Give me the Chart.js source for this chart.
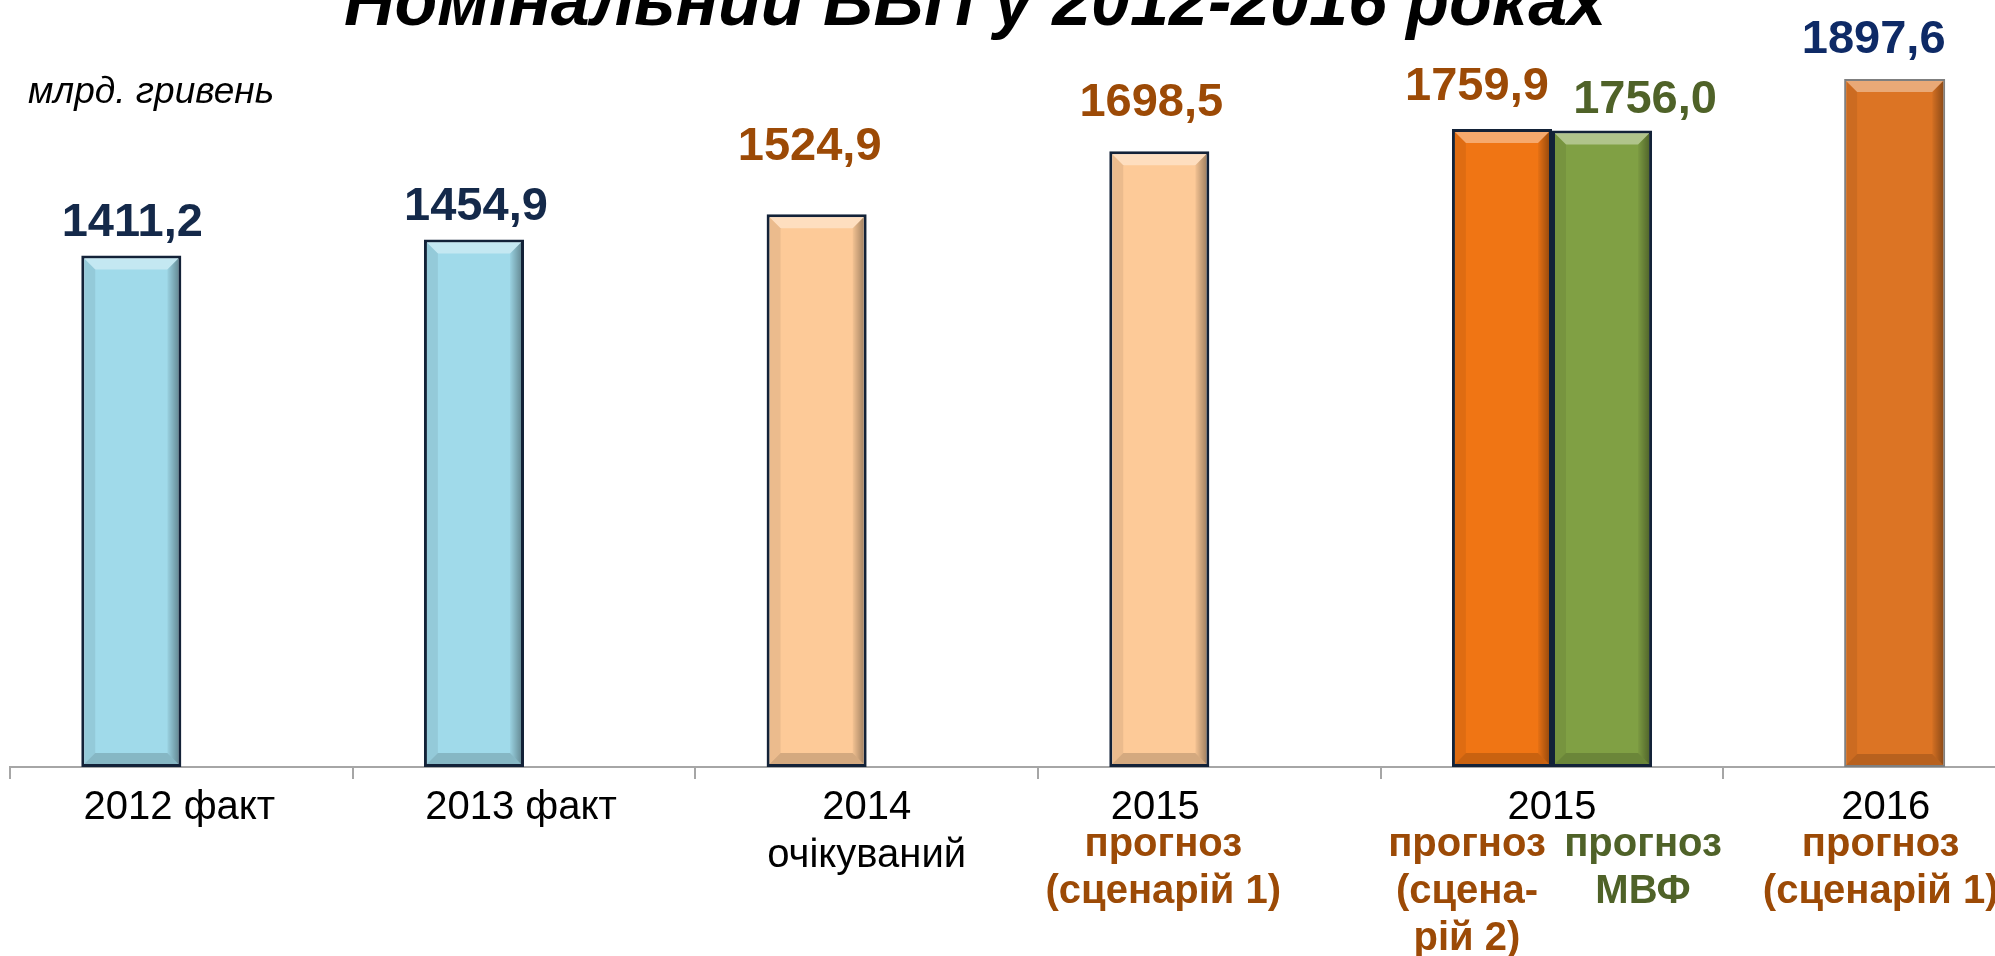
<!DOCTYPE html>
<html lang="uk">
<head>
<meta charset="utf-8">
<title>Номінальний ВВП у 2012-2016 роках</title>
<script src="https://cdn.jsdelivr.net/npm/chart.js@4.4.0/dist/chart.umd.min.js"></script>
<style>
  html, body { margin: 0; padding: 0; background: #fff; overflow: hidden; }
  #wrap { width: 2070px; height: 956px; }
</style>
</head>
<body>
<div id="wrap"><canvas id="gdp" width="2070" height="956"></canvas></div>
<script>
const FONT = '"Liberation Sans", Arial, sans-serif';

// --- data ---
const categories = ['2012 факт', '2013 факт', ['2014', 'очікуваний'], '2015', '2015', '2016'];
const gdpMain = [1411.2, 1454.9, 1524.9, 1698.5, 1759.9, null];
const gdpImf = [null, null, null, null, 1756.0, null];
const gdp2016 = [null, null, null, null, null, 1897.6];
const notesMain = [null, null, null, ['прогноз', '(сценарій 1)'], ['прогноз', '(сцена-', 'рій 2)'], null];
const notesImf = [null, null, null, null, ['прогноз', 'МВФ'], null];
const notes2016 = [null, null, null, null, null, ['прогноз', '(сценарій 1)']];
const chartTitle = 'Номінальний ВВП у 2012-2016 роках';
const unitLabel = 'млрд. гривень';

// --- styles ---
const NAVY = '#14294a';
const BROWN = '#9c4a06';
const OLIVE = '#4f6228';
const mainFill = ['#a0daea', '#a0daea', '#fdca98', '#fdca98', '#f07514', '#f07514'];
const mainValueColor = [NAVY, NAVY, BROWN, BROWN, BROWN, BROWN];
// [dx, gap above bar top] for the value labels
const mainValuePos = [[1, 19], [2, 20], [-7, 54], [-8, 35], [-25, 29], [0, 20]];
const catShift = [-2, -3, 0, -54, 0, -9];

function fmt(v) {
  return v.toFixed(1).replace('.', ',');
}

function poly(ctx, pts, fill) {
  ctx.beginPath();
  ctx.moveTo(pts[0][0], pts[0][1]);
  for (let k = 1; k < pts.length; k++) ctx.lineTo(pts[k][0], pts[k][1]);
  ctx.closePath();
  ctx.fillStyle = fill;
  ctx.fill();
}

// bevelled look of the bars
const bevel = {
  id: 'bevel',
  afterDatasetsDraw(chart) {
    const ctx = chart.ctx;
    chart.data.datasets.forEach((ds, di) => {
      const meta = chart.getDatasetMeta(di);
      meta.data.forEach((el, i) => {
        if (ds.data[i] == null) return;
        const p = el.getProps(['x', 'y', 'base', 'width'], true);
        const bw = ds.borderWidth || 0;
        const l = p.x - p.width / 2 + bw, r = p.x + p.width / 2 - bw;
        const t = Math.min(p.y, p.base) + bw, b = Math.max(p.y, p.base) - bw;
        const e = 11;
        ctx.save();
        poly(ctx, [[l, t], [r, t], [r - e, t + e], [l + e, t + e]], 'rgba(255,255,255,0.38)');
        poly(ctx, [[l, b], [r, b], [r - e, b - e], [l + e, b - e]], 'rgba(0,0,0,0.16)');
        const g = ctx.createLinearGradient(r - e, 0, r, 0);
        g.addColorStop(0, 'rgba(0,0,0,0.04)');
        g.addColorStop(1, 'rgba(0,0,0,0.35)');
        poly(ctx, [[r, t], [r, b], [r - e, b - e], [r - e, t + e]], g);
        poly(ctx, [[l, t], [l + e, t + e], [l + e, b - e], [l, b]], 'rgba(0,0,0,0.07)');
        ctx.restore();
      });
    });
  }
};

// value labels above bars and coloured notes under the axis
const annotations = {
  id: 'annotations',
  afterDraw(chart) {
    const ctx = chart.ctx;
    const area = chart.chartArea;
    const xs = chart.scales.x;
    ctx.save();
    ctx.textAlign = 'center';
    ctx.textBaseline = 'alphabetic';

    chart.data.datasets.forEach((ds, di) => {
      const meta = chart.getDatasetMeta(di);
      meta.data.forEach((el, i) => {
        const v = ds.data[i];
        if (v == null) return;
        const pos = ds.valuePos[i];
        ctx.font = 'bold 47px ' + FONT;
        ctx.fillStyle = ds.valueColor[i];
        ctx.fillText(fmt(v), el.x + pos[0], el.y - pos[1]);
        const notes = ds.notes[i];
        if (notes) {
          ctx.font = 'bold 40px ' + FONT;
          ctx.fillStyle = ds.noteColor;
          notes.forEach((line, k) => {
            ctx.fillText(line, el.x + ds.noteShift[i], area.bottom + 89 + k * 47);
          });
        }
      });
    });

    ctx.font = '40px ' + FONT;
    ctx.fillStyle = '#000';
    categories.forEach((c, i) => {
      const lines = Array.isArray(c) ? c : [c];
      const x = xs.getPixelForValue(i) + catShift[i];
      lines.forEach((line, k) => ctx.fillText(line, x, area.bottom + 52 + k * 48));
    });

    ctx.font = 'italic bold 70px ' + FONT;
    ctx.fillText(chartTitle, 975, 25);

    ctx.textAlign = 'left';
    ctx.font = 'italic 37px ' + FONT;
    ctx.fillText(unitLabel, 28, 103);
    ctx.restore();
  }
};

new Chart(document.getElementById('gdp'), {
  type: 'bar',
  data: {
    labels: categories,
    datasets: [
      {
        label: 'ВВП',
        data: gdpMain,
        backgroundColor: mainFill,
        borderColor: '#132238',
        borderWidth: 3,
        borderSkipped: false,
        categoryPercentage: 0.584,
        barPercentage: 1,
        valueColor: mainValueColor,
        valuePos: mainValuePos,
        notes: notesMain,
        noteColor: BROWN,
        noteShift: [0, 0, 0, 4, -35, 0]
      },
      {
        label: 'прогноз МВФ',
        data: gdpImf,
        backgroundColor: '#80a044',
        borderColor: '#132238',
        borderWidth: 3,
        borderSkipped: false,
        categoryPercentage: 0.584,
        barPercentage: 1,
        valueColor: [OLIVE, OLIVE, OLIVE, OLIVE, OLIVE, OLIVE],
        valuePos: [[0, 0], [0, 0], [0, 0], [0, 0], [43, 17], [0, 0]],
        notes: notesImf,
        noteColor: OLIVE,
        noteShift: [0, 0, 0, 0, 41, 0]
      },
      {
        label: '2016 прогноз',
        data: gdp2016,
        grouped: false,
        backgroundColor: '#dc7424',
        borderColor: '#7f7f7f',
        borderWidth: 2,
        borderSkipped: false,
        categoryPercentage: 0.295,
        barPercentage: 1,
        valueColor: ['#0e2a66', '#0e2a66', '#0e2a66', '#0e2a66', '#0e2a66', '#0e2a66'],
        valuePos: [[0, 0], [0, 0], [0, 0], [0, 0], [0, 0], [-21, 26]],
        notes: notes2016,
        noteColor: BROWN,
        noteShift: [0, 0, 0, 0, 0, -14]
      }
    ]
  },
  options: {
    responsive: false,
    animation: false,
    layout: { padding: { top: 42, left: 10, right: 4, bottom: 0 } },
    plugins: {
      legend: { display: false },
      tooltip: { enabled: false }
    },
    scales: {
      x: {
        type: 'category',
        grid: {
          drawOnChartArea: false,
          drawTicks: true,
          tickLength: 12,
          color: '#a6a6a6',
          lineWidth: 2
        },
        border: { display: true, color: '#a6a6a6', width: 2 },
        ticks: { display: false },
        afterFit(scale) { scale.height = 189; }
      },
      y: {
        display: false,
        min: 0,
        max: 2000
      }
    }
  },
  plugins: [bevel, annotations]
});
</script>
</body>
</html>
